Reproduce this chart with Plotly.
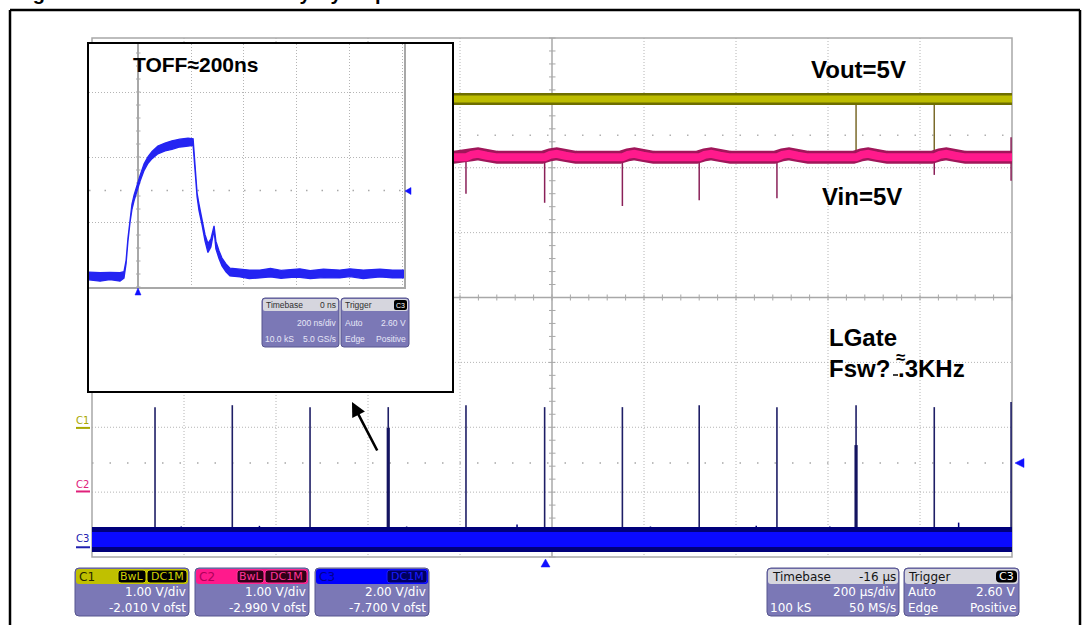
import plotly.graph_objects as go

W, H = 1084, 625


def px(x):
    return x / W


def py(y):
    return 1 - y / H


# ======================= DATA =======================
# Scope channel settings (V/div, offset V)
C1_VDIV, C1_OFST = 1.00, -2.010
C2_VDIV, C2_OFST = 1.00, -2.990
C3_VDIV, C3_OFST = 2.00, -7.700
TRIG_LEVEL_V = 2.60
TIMEBASE_US_DIV = 200
TIME_DELAY_US = -16

# C3: LGate pulses (time in us, peak in V)
lgate_t_us = [-847, -679, -510, -340, -171, 0, 169, 336, 505, 677, 847, 1014]
lgate_peak_v = [4.32, 4.38, 4.32, 4.32, 4.38, 4.32, 4.32, 4.38, 4.32, 4.38, 4.32, 4.48]
lgate_base_v = 0.24
lgate_thick_t_us = [-340, 677]
lgate_thick_v = [3.68, 3.15]
# small noise hairs on the LGate baseline (time us, tip V)
lgate_hair_t_us = [-930, -860, -790, -700, -620, -560, -470, -400, -300, -230, -120, -60,
                   40, 110, 230, 290, 400, 460, 560, 620, 740, 800, 900, 960]
lgate_hair_v = [0.62, 0.58, 0.64, 0.60, 0.66, 0.58, 0.62, 0.60, 0.64, 0.60, 0.58, 0.70,
                0.62, 0.60, 0.64, 0.58, 0.62, 0.66, 0.60, 0.64, 0.58, 0.62, 0.76, 0.60]

# C1: Vout
vout_t_us = [-199, 1016]
vout_v = [5.07, 5.07]
vout_spike_t_us = [677, 847]
vout_spike_v = [4.28, 4.17]

# C2: Vin level, ripple hump after each LGate pulse, spikes
vin_level_v = 5.15
vin_hump_dt_us = [-6, 0, 12, 26, 45, 68]
vin_hump_dv = [0.0, 0.0, 0.04, 0.055, 0.025, 0.0]
vin_spike_t_us = [-171, 0, 169, 336, 505, 847, 1014]
vin_spike_v = [4.59, 4.45, 4.40, 4.49, 4.52, 4.88, 4.79]
vin_upspike_t_us = [1014]
vin_upspike_v = [5.46]

# Inset: LGate zoom, 200 ns/div, 2 V/div
inset_t_ns = [-185, -143, -106, -68, -53, -45, -38, -30, -23, -15, -4, 8, 23, 38, 53, 75,
              102, 128, 158, 189, 208, 215, 223, 230, 242, 253, 264, 275, 287, 294, 306,
              317, 332, 347, 385, 420, 460, 500, 540, 580, 611, 650, 700, 762, 800, 850,
              913, 960, 1004]
inset_v = [-0.03, -0.06, -0.03, -0.06, 0.0, 0.40, 1.08, 1.69, 2.09, 2.37, 2.68, 2.98, 3.32,
           3.54, 3.69, 3.85, 3.94, 4.00, 4.06, 4.09, 4.09, 3.38, 2.46, 2.09, 1.63, 1.14, 0.83,
           0.98, 1.45, 0.92, 0.62, 0.40, 0.22, 0.09, 0.06, 0.02, 0.03, 0.07, 0.02, 0.05, 0.06,
           0.01, 0.05, 0.03, 0.07, 0.02, 0.06, 0.03, 0.03]
inset_hw_v = [0.12, 0.13, 0.11, 0.13, 0.10, 0.05, 0.05, 0.06, 0.08, 0.09, 0.09, 0.09, 0.10,
              0.10, 0.11, 0.12, 0.12, 0.13, 0.12, 0.12, 0.10, 0.06, 0.06, 0.10, 0.10, 0.10, 0.14,
              0.12, 0.06, 0.12, 0.12, 0.12, 0.12, 0.12, 0.12, 0.13, 0.12, 0.13, 0.12, 0.12, 0.13,
              0.12, 0.13, 0.12, 0.12, 0.13, 0.12, 0.12, 0.12]

# Text content
title_text = "Figure 10. Maximum Load Duty Cycle performance"
label_vout = "Vout=5V"
label_vin = "Vin=5V"
label_lgate = "LGate"
label_toff = "TOFF≈200ns"

FONT_B = "Liberation Sans, Arial, sans-serif"
FONT_S = "DejaVu Sans, sans-serif"
FONT_N = "Liberation Sans Narrow, Liberation Sans, sans-serif"


def d1(v):
    return (v + C1_OFST) / C1_VDIV


def d2(v):
    return (v + C2_OFST) / C2_VDIV


def d3(v):
    return (v + C3_OFST) / C3_VDIV


x_center = -TIME_DELAY_US
x_range = [x_center - 5 * TIMEBASE_US_DIV, x_center + 5 * TIMEBASE_US_DIV]

fig = go.Figure()


def add(x, y, color, width, dash=None, axes=("x", "y"), **kw):
    ln = dict(color=color, width=width)
    if dash:
        ln["dash"] = dash
    fig.add_trace(go.Scatter(x=x, y=y, mode="lines", line=ln, xaxis=axes[0], yaxis=axes[1],
                             hoverinfo="skip", **kw))


def segs(ts, y0s, y1s):
    xs, ys = [], []
    for t, a, b in zip(ts, y0s, y1s):
        xs += [t, t, None]
        ys += [a, b, None]
    return xs, ys


# trigger level (C3)
add(x_range, [d3(TRIG_LEVEL_V)] * 2, "#a8a8a8", 1.5, dash="1.5px,16px")

# Vout spikes + band
xs, ys = segs(vout_spike_t_us, [d1(vout_v[0])] * len(vout_spike_t_us), [d1(v) for v in vout_spike_v])
add(xs, ys, "#7a6a2a", 1.5)
# Vin spikes
xs, ys = segs(vin_spike_t_us, [d2(vin_level_v)] * len(vin_spike_t_us), [d2(v) for v in vin_spike_v])
add(xs, ys, "#8a2058", 1.5)
xs, ys = segs(vin_upspike_t_us, [d2(vin_level_v)] * len(vin_upspike_t_us), [d2(v) for v in vin_upspike_v])
add(xs, ys, "#8a2058", 1.5)

add(vout_t_us, [d1(v) for v in vout_v], "#6e6e00", 12)
add(vout_t_us, [d1(v) for v in vout_v], "#bdbd00", 7)

mt, mv = [vout_t_us[0]], [vin_level_v]
for p in lgate_t_us:
    if p - 10 > vout_t_us[0]:
        for dt, dv in zip(vin_hump_dt_us, vin_hump_dv):
            if p + dt < x_range[1]:
                mt.append(p + dt)
                mv.append(vin_level_v + dv)
mt.append(x_range[1])
mv.append(vin_level_v)
add(mt, [d2(v) for v in mv], "#a0165a", 13)
add(mt, [d2(v) for v in mv], "#ff1a8c", 8)

# LGate pulses
xs, ys = segs(lgate_t_us, [d3(lgate_base_v)] * len(lgate_t_us), [d3(v) for v in lgate_peak_v])
add(xs, ys, "#1e1e66", 1.6)
xs, ys = segs(lgate_thick_t_us, [d3(lgate_base_v)] * len(lgate_thick_t_us), [d3(v) for v in lgate_thick_v])
add(xs, ys, "#141460", 3.2)
xs, ys = segs(lgate_hair_t_us, [d3(lgate_base_v)] * len(lgate_hair_t_us), [d3(v) for v in lgate_hair_v])
add(xs, ys, "#00007a", 1.5)
add(x_range, [d3(lgate_base_v)] * 2, "#00007a", 25)
add(x_range, [d3(lgate_base_v)] * 2, "#0a0aff", 15)

# Inset trace
add([inset_t_ns[0], inset_t_ns[-1]], [TRIG_LEVEL_V] * 2, "#a8a8a8", 1.5, dash="1.5px,14px", axes=("x2", "y2"))
up = [v + h for v, h in zip(inset_v, inset_hw_v)]
lo = [v - h for v, h in zip(inset_v, inset_hw_v)]
fig.add_trace(go.Scatter(x=inset_t_ns + inset_t_ns[::-1], y=up + lo[::-1], mode="lines",
                         fill="toself", fillcolor="#2424f2", line=dict(color="#2424f2", width=1.3),
                         xaxis="x2", yaxis="y2", hoverinfo="skip"))

# ======================= DECORATION =======================
shapes = []


def line(x0, y0, x1, y1, color, width, dash=None, layer="below"):
    d = dict(type="line", xref="paper", yref="paper", x0=px(x0), y0=py(y0), x1=px(x1), y1=py(y1),
             line=dict(color=color, width=width), layer=layer)
    if dash:
        d["line"]["dash"] = dash
    shapes.append(d)


def rect(x0, y0, x1, y1, fill=None, lc=None, lw=0, layer="below"):
    shapes.append(dict(type="rect", xref="paper", yref="paper", x0=px(x0), y0=py(y1), x1=px(x1),
                       y1=py(y0), fillcolor=fill or "rgba(0,0,0,0)",
                       line=dict(color=lc or "rgba(0,0,0,0)", width=lw), layer=layer))


def rr_path(x0, y0, x1, y1, r):
    rx, ry = r / W, r / H
    X0, X1, Y0, Y1 = px(x0), px(x1), py(y0), py(y1)
    return (f"M{X0+rx},{Y0} L{X1-rx},{Y0} Q{X1},{Y0} {X1},{Y0-ry} L{X1},{Y1+ry} Q{X1},{Y1} {X1-rx},{Y1} "
            f"L{X0+rx},{Y1} Q{X0},{Y1} {X0},{Y1+ry} L{X0},{Y0-ry} Q{X0},{Y0} {X0+rx},{Y0} Z")


def rrect(x0, y0, x1, y1, r, fill, lc=None, lw=0):
    shapes.append(dict(type="path", xref="paper", yref="paper", path=rr_path(x0, y0, x1, y1, r),
                       fillcolor=fill, line=dict(color=lc or fill, width=lw), layer="above"))


def tri(pts, color):
    p = "M" + " L".join(f"{px(a)},{py(b)}" for a, b in pts) + " Z"
    shapes.append(dict(type="path", xref="paper", yref="paper", path=p, fillcolor=color,
                       line=dict(color=color, width=0.5), layer="above"))


GX0, GX1, GY0, GY1 = 92, 1012, 38, 557
DX, DY = (GX1 - GX0) / 10, (GY1 - GY0) / 8
CX, CY = GX0 + 5 * DX, GY0 + 4 * DY
GRID = "#b4b4b4"
AX = "#a8a8a8"
for k in range(1, 10):
    if k != 5:
        line(GX0 + k * DX, GY0, GX0 + k * DX, GY1, GRID, 1, "1px,2px")
for j in range(1, 8):
    if j != 4:
        line(GX0, GY0 + j * DY, GX1, GY0 + j * DY, GRID, 1, "1px,2px")
rect(GX0, GY0, GX1, GY1, lc=AX, lw=1.5)
line(CX, GY0, CX, GY1, AX, 1.5)
line(GX0, CY, GX1, CY, AX, 1.5)
for m in range(41):
    yy = GY0 + m * DY / 5
    line(CX - 3, yy, CX + 3.5, yy, AX, 1)
for m in range(51):
    xx = GX0 + m * DX / 5
    line(xx, CY - 3, xx, CY + 3, AX, 1)
line(GX0, CY - 2.5 * DY, GX1, CY - 2.5 * DY, "#b0b0b0", 1.5, "1.5px,16px")

# inset white box
rect(88, 43, 453, 392, fill="white")
for m in range(19):
    yy = 287 - m * 13
    line(136, yy, 140.5, yy, AX, 1)
rect(88, 43, 453, 392, lc="black", lw=2, layer="above")

# outer frame
line(10, 10, 1080, 10, "black", 2.5, layer="above")
line(10, 10, 10, 625, "black", 2.5, layer="above")
line(1080, 10, 1080, 625, "black", 2.5, layer="above")

# markers
tri([(545.5, 559), (541, 567), (550, 567)], "#1010ff")
tri([(1015, 463), (1024, 458.5), (1024, 467.5)], "#1010ff")
tri([(138, 288), (135, 295), (141, 295)], "#1010ff")
tri([(405, 191), (411, 187.5), (411, 194.5)], "#1010ff")

annotations = []


def txt(x, y, s, size, color, anchor="left", family=FONT_S):
    annotations.append(dict(x=px(x), y=py(y), xref="paper", yref="paper", text=s, showarrow=False,
                            xanchor=anchor, yanchor="middle", borderpad=0,
                            font=dict(size=size, color=color, family=family)))


# left channel markers
for name, yt, ym, col in [("C1", 420, d1(0), "#a8a800"), ("C2", 484, d2(0), "#e0207a"),
                          ("C3", 538, d3(0), "#2020b0")]:
    ypx = CY - ym * DY
    txt(75, yt, name, 10, col)
    line(76, ypx, 90, ypx, col, 2, layer="above")

# channel boxes
PURPLE = "#7b78b6"
BORDER = "#56548e"
chan_boxes = [
    ("C1", 75, 189, "#c0c000", "#262600", [("BwL", 118, 146), ("DC1M", 147, 187)], "#000000", "#d0d000",
     C1_VDIV, C1_OFST),
    ("C2", 195, 309, "#ff1a8c", "#b0005a", [("BwL", 237, 264), ("DC1M", 265, 307)], "#300018", "#ff3399",
     C2_VDIV, C2_OFST),
    ("C3", 315, 429, "#0000ff", "#000090", [("DC1M", 387, 427)], "#000060", "#1a1aff",
     C3_VDIV, C3_OFST),
]
for name, x0, x1, hc, tc, tags, tagbg, tagfg, vdiv, ofst in chan_boxes:
    rrect(x0, 568, x1, 616, 4, PURPLE, BORDER, 1)
    rrect(x0 + 1, 569, x1 - 1, 584, 3, hc)
    txt(x0 + 3, 576.5, name, 12, tc)
    for t, a, b in tags:
        rrect(a, 570, b, 583, 3, tagbg, tagfg, 1)
        txt((a + b) / 2, 576.5, t, 11, tagfg, anchor="center")
    txt(x1 - 2, 592, f"{vdiv:.2f} V/div", 12, "white", anchor="right")
    txt(x1 - 2, 607.5, f"{ofst:.3f} V ofst", 12, "white", anchor="right")

# timebase / trigger boxes
HDR = "#d6d6de"
rrect(767, 568, 899, 616, 4, PURPLE, BORDER, 1)
rrect(768, 569, 898, 584, 3, HDR)
txt(771, 576.5, "Timebase", 12, "#151515")
txt(897, 576.5, f"{TIME_DELAY_US} µs", 12, "#151515", anchor="right")
txt(897, 592, f"{TIMEBASE_US_DIV} µs/div", 12, "white", anchor="right")
txt(769, 607.5, "100 kS", 12, "white")
txt(897, 607.5, "50 MS/s", 12, "white", anchor="right")

rrect(904, 568, 1019, 616, 4, PURPLE, BORDER, 1)
rrect(905, 569, 1018, 584, 3, HDR)
txt(907, 576.5, "Trigger", 12, "#151515")
rrect(996, 570.5, 1017, 582.5, 4, "#000000")
txt(1006.5, 576.5, "C3", 11, "white", anchor="center")
txt(907, 592, "Auto", 12, "white")
txt(1017, 592, f"{TRIG_LEVEL_V:.2f} V", 12, "white", anchor="right")
txt(907, 607.5, "Edge", 12, "white")
txt(1017, 607.5, "Positive", 12, "white", anchor="right")

# inset info boxes
IW = "#e6e6f6"
rrect(262, 298, 339, 347, 3, PURPLE, BORDER, 1)
rrect(263, 299, 338, 311, 2, HDR)
txt(265, 305, "Timebase", 8.5, "#303030", family=FONT_N)
txt(337, 305, "0 ns", 8.5, "#303030", anchor="right", family=FONT_N)
txt(337, 323, "200 ns/div", 8.5, IW, anchor="right", family=FONT_N)
txt(264, 339, "10.0 kS", 8.5, IW, family=FONT_N)
txt(337, 339, "5.0 GS/s", 8.5, IW, anchor="right", family=FONT_N)
rrect(341, 298, 409, 347, 3, PURPLE, BORDER, 1)
rrect(342, 299, 408, 311, 2, HDR)
txt(344, 305, "Trigger", 8.5, "#303030", family=FONT_N)
rrect(394, 300, 407, 310, 2, "#000000")
txt(400.5, 305, "C3", 7, "white", anchor="center", family=FONT_N)
txt(344, 323, "Auto", 8.5, IW, family=FONT_N)
txt(407, 323, "2.60 V", 8.5, IW, anchor="right", family=FONT_N)
txt(344, 339, "Edge", 8.5, IW, family=FONT_N)
txt(407, 339, "Positive", 8.5, IW, anchor="right", family=FONT_N)

# bold labels
txt(14, -7, f"<b>{title_text}</b>", 20, "black", family=FONT_B)
txt(132, 64, f"<b>{label_toff}</b>", 21, "black", family=FONT_B)
txt(858, 69, f"<b>{label_vout}</b>", 24, "black", anchor="center", family=FONT_B)
txt(862, 197, f"<b>{label_vin}</b>", 24, "black", anchor="center", family=FONT_B)
txt(828, 338, f"<b>{label_lgate}</b>", 24, "black", family=FONT_B)
txt(828, 368, "<b>Fsw?</b>", 24, "black", family=FONT_B)
txt(900, 357, "<b>≈</b>", 17, "black", anchor="center", family=FONT_B)
txt(897, 368, "<b>.3KHz</b>", 24, "black", family=FONT_B)
line(893, 375, 898, 375, "black", 1.5, layer="above")

# arrow
annotations.append(dict(x=px(352), y=py(402), xref="paper", yref="paper", ax=26, ay=50,
                        axref="pixel", ayref="pixel", text="", showarrow=True, arrowhead=2,
                        arrowsize=1.1, arrowwidth=2.6, arrowcolor="black", standoff=0))

fig.update_layout(
    width=W, height=H, margin=dict(l=0, r=0, t=0, b=0), paper_bgcolor="white",
    plot_bgcolor="rgba(0,0,0,0)", showlegend=False, shapes=shapes, annotations=annotations,
    xaxis=dict(domain=[px(GX0), px(GX1)], range=x_range, visible=False, fixedrange=True),
    yaxis=dict(domain=[py(GY1), py(GY0)], range=[-4, 4], visible=False, fixedrange=True),
    xaxis2=dict(domain=[px(89), px(404)], range=[-185, 1004], anchor="y2", tick0=0, dtick=200,
                showgrid=True, gridcolor=GRID, griddash="1px,2px", gridwidth=1, zeroline=True,
                zerolinecolor=AX, zerolinewidth=1.5, showline=True, linecolor=AX, linewidth=1.5,
                showticklabels=False, ticks="", fixedrange=True),
    yaxis2=dict(domain=[py(287), py(44)], range=[-0.37, 7.11], anchor="x2", side="right",
                tick0=-0.37, dtick=2, showgrid=True, gridcolor=GRID, griddash="1px,2px", gridwidth=1,
                zeroline=False, showline=True, linecolor=AX, linewidth=1.5, showticklabels=False,
                ticks="", fixedrange=True),
)

fig.write_html("out.html", config={"displayModeBar": False},
               post_script="document.body.style.margin='0px';document.body.style.overflow='hidden';")
